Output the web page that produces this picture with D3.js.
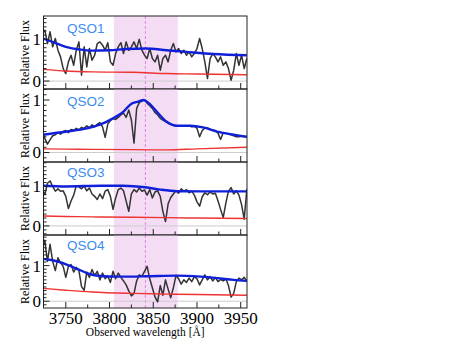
<!DOCTYPE html>
<html>
<head>
<meta charset="utf-8">
<script src="https://cdn.jsdelivr.net/npm/d3@7"></script>
<style>
	body { margin: 0; background: #fff; }
	svg { display: block; }
	.serif { font-family: "Liberation Serif", "DejaVu Serif", "Times New Roman", serif; }
	.sans { font-family: "Liberation Sans", Arial, sans-serif; }
</style>
</head>
<body>
<script>

// observed wavelength grid (Angstrom)
var waves = [3723,3726,3729,3732,3735,3738,3741,3744,3747,3750,
	3753,3756,3759,3762,3765,3768,3771,3774,3777,3780,
	3783,3786,3789,3792,3795,3798,3801,3804,3807,3810,
	3813,3816,3819,3822,3825,3828,3831,3834,3837,3840,
	3843,3846,3849,3852,3855,3858,3861,3864,3867,3870,
	3873,3876,3879,3882,3885,3888,3891,3894,3897,3900,
	3903,3906,3909,3912,3915,3918,3921,3924,3927,3930,
	3933,3936,3939,3942,3945,3948,3951,3954,3957,3960];

// relative flux per quasar
var flux_qso1 = [1.14,1.22,0.90,1.18,0.82,1.02,0.74,0.58,0.30,0.18,
	0.46,0.62,0.38,0.74,0.94,0.14,0.82,0.34,0.78,0.50,
	0.62,0.90,0.94,0.86,0.74,0.92,0.46,0.38,0.66,0.82,
	0.92,0.66,0.94,0.74,0.82,0.94,0.78,1.00,0.74,0.62,
	0.54,0.78,0.54,0.46,0.62,0.26,0.54,0.62,0.46,0.74,
	0.90,0.70,0.78,0.66,0.74,0.62,0.70,0.58,0.66,0.78,
	1.02,0.78,0.46,0.06,0.54,0.66,0.58,0.46,0.58,0.38,
	0.46,0.30,0.02,0.26,0.66,0.38,0.62,0.30,0.54,0.46];

var flux_qso2 = [0.37,0.27,0.16,0.24,0.32,0.34,0.38,0.35,0.40,0.42,
	0.38,0.44,0.42,0.46,0.43,0.48,0.46,0.51,0.47,0.53,
	0.49,0.54,0.57,0.49,0.29,0.54,0.61,0.65,0.63,0.67,
	0.72,0.75,0.67,0.81,0.62,0.18,0.84,0.95,0.98,1.00,
	0.94,0.89,0.84,0.76,0.72,0.65,0.62,0.59,0.56,0.54,
	0.52,0.51,0.51,0.51,0.50,0.51,0.51,0.49,0.50,0.46,
	0.30,0.42,0.47,0.47,0.44,0.43,0.42,0.37,0.25,0.38,
	0.37,0.35,0.34,0.32,0.30,0.30,0.31,0.30,0.30,0.30];

var flux_qso3 = [0.94,0.79,1.08,1.14,1.00,0.88,0.94,0.88,0.89,0.75,
	0.44,0.63,0.78,1.02,0.99,0.94,1.01,0.89,0.96,0.81,
	0.75,0.67,0.81,0.69,0.88,0.92,0.75,0.42,0.71,0.92,
	0.96,0.89,0.63,0.37,0.81,0.92,0.86,0.96,0.88,0.91,
	0.78,0.92,0.71,0.86,0.89,0.75,0.37,0.11,0.56,0.72,
	0.81,0.89,0.83,0.94,0.88,0.92,0.84,0.88,0.78,0.61,
	0.50,0.74,0.84,0.79,0.86,0.81,0.83,0.64,0.42,0.21,
	0.58,0.88,0.97,0.81,0.89,0.78,0.54,0.17,0.92,0.88];

var flux_qso4 = [1.46,1.71,1.12,1.60,1.12,0.86,1.22,1.08,0.98,0.67,
	0.98,1.03,0.82,0.95,0.86,0.41,0.31,0.82,0.67,0.89,
	0.72,0.84,0.60,0.79,0.63,0.70,0.53,0.84,0.63,0.79,
	0.67,0.57,0.46,0.29,0.15,0.22,0.57,0.74,0.70,0.84,
	0.98,0.63,0.38,0.12,-0.02,0.44,0.17,0.60,0.34,0.10,
	0.38,0.72,0.63,0.48,0.60,0.53,0.65,0.55,0.69,0.63,
	0.46,0.60,0.74,0.60,0.69,0.57,0.67,0.55,0.61,0.57,
	0.63,0.44,0.12,0.22,0.55,0.65,0.60,0.67,0.57,0.63];

// continuum fits (knots)
var cont_wave1 = [3724,3740,3750,3765,3780,3800,3820,3841,3865,3888,3919,3957];
var cont_qso1  = [1.02,0.90,0.82,0.76,0.73,0.74,0.77,0.78,0.74,0.70,0.65,0.62];

var cont_wave2 = [3724,3751,3774,3789,3804,3816,3825,3833,3839,3845,3854,3865,3877,3892,3907,3923,3942,3957];
var cont_qso2  = [0.34,0.40,0.46,0.53,0.65,0.78,0.93,0.97,1.00,0.94,0.78,0.59,0.51,0.51,0.48,0.40,0.34,0.30];

var cont_wave3 = [3724,3750,3790,3815,3841,3858,3877,3905,3957];
var cont_qso3  = [1.02,1.00,1.02,1.02,0.98,0.92,0.88,0.875,0.875];

var cont_wave4 = [3724,3735,3751,3763,3774,3789,3808,3841,3877,3904,3923,3942,3957];
var cont_qso4  = [1.19,1.15,1.03,0.91,0.79,0.71,0.69,0.70,0.72,0.69,0.65,0.60,0.57];

// flux errors
var err_wave = [3724,3750,3780,3827,3865,3900,3957];
var err_qso1 = [0.28,0.24,0.22,0.21,0.18,0.17,0.15];
var err_qso2 = [0.07,0.065,0.06,0.055,0.05,0.07,0.10];
var err_qso3 = [0.25,0.24,0.23,0.22,0.21,0.20,0.19];
var err_qso4 = [0.36,0.31,0.26,0.22,0.20,0.19,0.17];

var names = ["QSO1", "QSO2", "QSO3", "QSO4"];
var x_labels = [3750, 3800, 3850, 3900, 3950];
var y_labels = [0, 1];

// highlighted window and its centre
var band = [3805, 3878];
var band_centre = 3841;


var WIDTH = 457,
	HEIGHT = 343;

var plot_left = 43.5,
	plot_right = 247,
	plot_top = 16,
	panel_height = 73;

var panels = [
	{ flux: flux_qso1, cw: cont_wave1, cont: cont_qso1, err: err_qso1, y: [-0.19, 1.56], label_dy: 16.5 },
	{ flux: flux_qso2, cw: cont_wave2, cont: cont_qso2, err: err_qso2, y: [-0.18, 1.21], label_dy: 17 },
	{ flux: flux_qso3, cw: cont_wave3, cont: cont_qso3, err: err_qso3, y: [-0.23, 1.62], label_dy: 14.5 },
	{ flux: flux_qso4, cw: cont_wave4, cont: cont_qso4, err: err_qso4, y: [-0.19, 1.86], label_dy: 14.5 }
];

var x = d3.scaleLinear()
	.domain([3724.5, 3957.2])
	.range([plot_left, plot_right]);

var svg = d3.select("body").append("svg")
	.attr("width", WIDTH)
	.attr("height", HEIGHT);

svg.append("defs").append("clipPath")
	.attr("id", "clip")
	.append("rect")
	.attr("x", plot_left)
	.attr("y", plot_top)
	.attr("width", plot_right - plot_left)
	.attr("height", panel_height * 4);

var x_minor = d3.range(3750, 3960, 25);

panels.forEach(function(p, i) {

	var top = plot_top + i * panel_height,
		bottom = top + panel_height;

	var y = d3.scaleLinear()
		.domain(p.y)
		.range([bottom, top]);

	var g = svg.append("g").attr("clip-path", "url(#clip)");

	// shaded window
	g.append("rect")
		.attr("x", x(band[0]))
		.attr("y", top)
		.attr("width", x(band[1]) - x(band[0]))
		.attr("height", panel_height)
		.attr("fill", "#f5dcf5");

	g.append("line")
		.attr("x1", x(band_centre)).attr("x2", x(band_centre))
		.attr("y1", top).attr("y2", bottom)
		.attr("stroke", "#dd88dd")
		.attr("stroke-width", 1)
		.attr("stroke-dasharray", "3,2");

	// zero level
	g.append("line")
		.attr("x1", plot_left).attr("x2", plot_right)
		.attr("y1", y(0)).attr("y2", y(0))
		.attr("stroke", "#cccccc")
		.attr("stroke-width", 1);

	var spec = d3.line()
		.x(function(d, j) { return x(waves[j]); })
		.y(function(d) { return y(d); });

	var smooth = function(ws) {
		return d3.line()
			.curve(d3.curveMonotoneX)
			.x(function(d, j) { return x(ws[j]); })
			.y(function(d) { return y(d); });
	};

	g.append("path")
		.datum(p.flux)
		.attr("fill", "none")
		.attr("stroke", "#333333")
		.attr("stroke-width", 1.5)
		.attr("stroke-linejoin", "round")
		.attr("d", spec);

	g.append("path")
		.datum(p.err)
		.attr("fill", "none")
		.attr("stroke", "#ee3333")
		.attr("stroke-width", 1.4)
		.attr("d", smooth(err_wave));

	g.append("path")
		.datum(p.cont)
		.attr("fill", "none")
		.attr("stroke", "#1020d8")
		.attr("stroke-width", 2.4)
		.attr("d", smooth(p.cw));

	// panel frame
	svg.append("rect")
		.attr("x", plot_left)
		.attr("y", top)
		.attr("width", plot_right - plot_left)
		.attr("height", panel_height)
		.attr("fill", "none")
		.attr("stroke", "#222")
		.attr("stroke-width", 1);

	// inward ticks
	var ax = svg.append("g").attr("stroke", "#222").attr("stroke-width", 1);

	ax.selectAll(".xt")
		.data(x_minor)
		.enter().append("line")
		.attr("x1", function(d) { return x(d); })
		.attr("x2", function(d) { return x(d); })
		.attr("y1", bottom)
		.attr("y2", function(d) { return bottom - (d % 50 == 0 ? 6 : 3.5); });

	var y_ticks = d3.range(Math.ceil(p.y[0] * 10), Math.floor(p.y[1] * 10) + 1)
		.map(function(k) { return k / 10; });

	ax.selectAll(".yt")
		.data(y_ticks)
		.enter().append("line")
		.attr("x1", plot_left)
		.attr("x2", function(d) { return plot_left + (Math.abs(d - Math.round(d)) < 1e-6 ? 6 : 3); })
		.attr("y1", function(d) { return y(d); })
		.attr("y2", function(d) { return y(d); });

	svg.selectAll(".yl" + i)
		.data(y_labels)
		.enter().append("text")
		.attr("class", "serif")
		.attr("x", 41)
		.attr("y", function(d) { return y(d); })
		.attr("dy", "0.35em")
		.attr("text-anchor", "end")
		.attr("font-size", 17)
		.text(function(d) { return d; });

	svg.append("text")
		.attr("class", "serif")
		.attr("transform", "translate(28.5," + (top + panel_height / 2) + ") rotate(-90)")
		.attr("text-anchor", "middle")
		.attr("font-size", 12)
		.text("Relative Flux");

	svg.append("text")
		.attr("class", "sans")
		.attr("x", 67)
		.attr("y", top + p.label_dy)
		.attr("font-size", 13.5)
		.attr("fill", "#3d8cf0")
		.text(names[i]);
});

// x axis labels on the bottom panel
var bottom_edge = plot_top + 4 * panel_height;

svg.selectAll(".xl")
	.data(x_labels)
	.enter().append("text")
	.attr("class", "serif")
	.attr("x", function(d) { return x(d); })
	.attr("y", bottom_edge + 15.5)
	.attr("text-anchor", "middle")
	.attr("font-size", 17)
	.text(function(d) { return d; });

svg.append("text")
	.attr("class", "serif")
	.attr("x", (plot_left + plot_right) / 2)
	.attr("y", 336)
	.attr("text-anchor", "middle")
	.attr("font-size", 11.5)
	.text("Observed wavelength [Å]");

</script>
</body>
</html>
